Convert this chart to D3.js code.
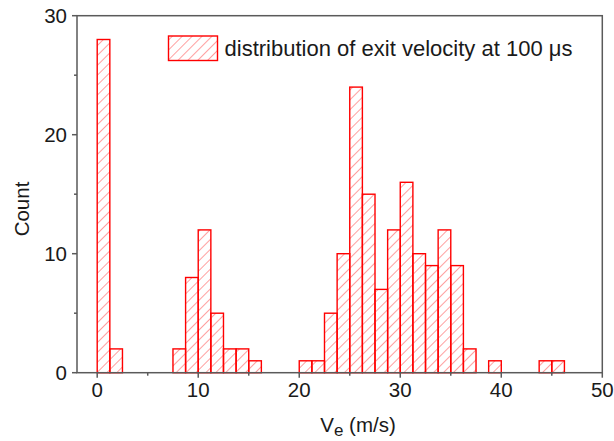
<!DOCTYPE html>
<html>
<head>
<meta charset="utf-8">
<script src="https://cdn.jsdelivr.net/npm/d3@7"></script>
<style>
    html, body { margin: 0; padding: 0; background: #fff; }
    text { font-family: "Liberation Sans", Arial, sans-serif; fill: #1a1a1a; }
</style>
</head>
<body>
<main></main>
<script>
// Data: histogram bins (start of bin, m/s) and counts
const binWidth = 1.25
const binStarts = [0, 1.25, 7.5, 8.75, 10, 11.25, 12.5, 13.75, 15,
    20, 21.25, 22.5, 23.75, 25, 26.25, 27.5, 28.75, 30, 31.25, 32.5, 33.75, 35, 36.25,
    38.75, 43.75, 45]
const counts = [28, 2, 2, 8, 12, 5, 2, 2, 1,
    1, 1, 5, 10, 24, 15, 7, 12, 16, 10, 9, 12, 9, 2,
    1, 1, 1]
const xTicks = [0, 10, 20, 30, 40, 50]
const yTicks = [0, 10, 20, 30]
const legendLabel = 'distribution of exit velocity at 100 \u03bcs'

function GeneratePlot() {
    const total_width = 614
    const total_height = 441
    const margin = { top: 15.7, right: 11.7, bottom: 68.3, left: 77 }
    const width = total_width - margin.left - margin.right
    const height = total_height - margin.top - margin.bottom
    const red = '#ff0000'
    const axisColor = '#5a5a5a'

    const svg = d3.select('main')
        .append('svg')
        .attr('width', total_width)
        .attr('height', total_height)

    // hatch pattern
    const pattern = svg.append('defs')
        .append('pattern')
        .attr('id', 'hatch')
        .attr('patternUnits', 'userSpaceOnUse')
        .attr('width', 7)
        .attr('height', 7)
        .attr('patternTransform', 'rotate(45)')
    pattern.append('line')
        .attr('x1', 0).attr('x2', 0)
        .attr('y1', 0).attr('y2', 7)
        .attr('stroke', '#ff6060')
        .attr('stroke-width', 1.2)

    const x = d3.scaleLinear().domain([-2, 50]).range([0, width])
    const y = d3.scaleLinear().domain([0, 30]).range([height, 0])

    const g = svg.append('g')
        .attr('transform', `translate(${margin.left},${margin.top})`)

    // bars
    g.append('g')
        .selectAll('rect')
        .data(binStarts)
        .enter()
        .append('rect')
        .attr('x', d => x(d))
        .attr('width', d => x(d + binWidth) - x(d))
        .attr('y', (d, i) => y(counts[i]))
        .attr('height', (d, i) => y(0) - y(counts[i]))
        .attr('fill', 'url(#hatch)')
        .attr('stroke', red)
        .attr('stroke-width', 1.4)

    // frame
    g.append('rect')
        .attr('width', width)
        .attr('height', height)
        .attr('fill', 'none')
        .attr('stroke', axisColor)
        .attr('stroke-width', 1.5)

    // x axis
    const xAxis = g.append('g')
        .attr('transform', `translate(0,${height})`)
    xAxis.selectAll('line.major')
        .data(xTicks)
        .enter()
        .append('line')
        .attr('x1', x).attr('x2', x)
        .attr('y1', 0).attr('y2', 5)
        .attr('stroke', axisColor)
        .attr('stroke-width', 1.5)
    xAxis.selectAll('line.minor')
        .data(xTicks.slice(0, -1).map(d => d + 5))
        .enter()
        .append('line')
        .attr('x1', x).attr('x2', x)
        .attr('y1', 0).attr('y2', 3)
        .attr('stroke', axisColor)
        .attr('stroke-width', 1.5)
    xAxis.selectAll('text')
        .data(xTicks)
        .enter()
        .append('text')
        .attr('x', x)
        .attr('y', 24.5)
        .attr('text-anchor', 'middle')
        .style('font-size', '20.5px')
        .text(d => d)

    // y axis
    const yAxis = g.append('g')
    yAxis.selectAll('line.major')
        .data(yTicks)
        .enter()
        .append('line')
        .attr('x1', -5).attr('x2', 0)
        .attr('y1', y).attr('y2', y)
        .attr('stroke', axisColor)
        .attr('stroke-width', 1.5)
    yAxis.selectAll('line.minor')
        .data(yTicks.slice(0, -1).map(d => d + 5))
        .enter()
        .append('line')
        .attr('x1', -3).attr('x2', 0)
        .attr('y1', y).attr('y2', y)
        .attr('stroke', axisColor)
        .attr('stroke-width', 1.5)
    yAxis.selectAll('text')
        .data(yTicks)
        .enter()
        .append('text')
        .attr('x', -10)
        .attr('y', y)
        .attr('dy', '0.36em')
        .attr('text-anchor', 'end')
        .style('font-size', '20.5px')
        .text(d => d)

    // axis titles
    svg.append('text')
        .attr('transform', 'translate(29,209) rotate(-90)')
        .attr('text-anchor', 'middle')
        .style('font-size', '20.5px')
        .text('Count')

    const xt = svg.append('text')
        .attr('x', 358)
        .attr('y', 432)
        .attr('text-anchor', 'middle')
        .style('font-size', '20.5px')
    xt.append('tspan').text('V')
    xt.append('tspan').attr('dy', 4).style('font-size', '17px').text('e')
    xt.append('tspan').attr('dy', -4).text(' (m/s)')

    // legend
    svg.append('rect')
        .attr('x', 168.5)
        .attr('y', 36)
        .attr('width', 49)
        .attr('height', 24.5)
        .attr('fill', 'url(#hatch)')
        .attr('stroke', red)
        .attr('stroke-width', 1.4)
    svg.append('text')
        .attr('x', 224.5)
        .attr('y', 56)
        .attr('textLength', 348)
        .style('font-size', '22px')
        .text(legendLabel)
}

GeneratePlot()
</script>
</body>
</html>
